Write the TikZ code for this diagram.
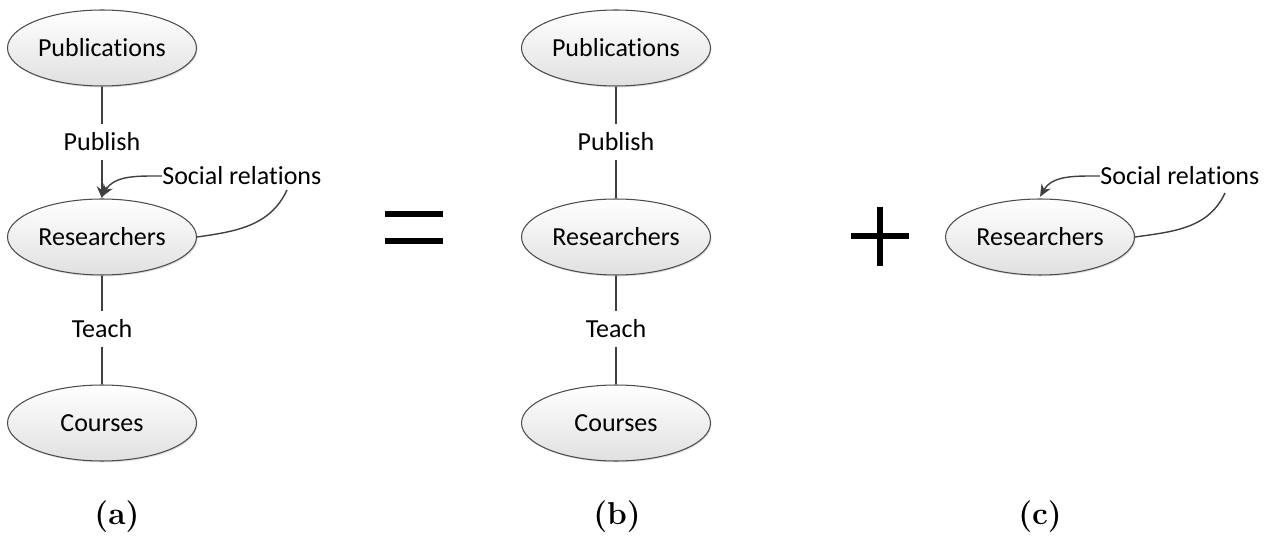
\documentclass[tikz,border=0pt]{standalone}
\usepackage{fontspec}
\setmainfont[Ligatures=NoCommon]{Carlito}
\newfontfamily\capfont{Latin Modern Roman}
\usetikzlibrary{shapes.geometric,arrows.meta,shadows}
\begin{document}
\begin{tikzpicture}[x=0.02cm,y=-0.02cm,
  entity/.style={ellipse,draw=black!70,line width=0.6pt,top color=white,bottom color=black!12,
    minimum width=3.78cm,minimum height=1.52cm,inner sep=0pt,font=\fontsize{14.8}{16}\selectfont,
    drop shadow={shadow xshift=0.6pt,shadow yshift=-0.8pt,fill=black!25,opacity=0.5}},
  rel/.style={font=\fontsize{14.8}{16}\selectfont,inner sep=0pt,minimum height=0.72cm},
  link/.style={draw=black!75,line width=0.8pt},
  arr/.style={link,-{Stealth[length=7pt,width=6pt]}},
  sub/.style={font=\capfont\bfseries\fontsize{18}{20}\selectfont},
  sym/.style={line width=3.2pt,black}]
\useasboundingbox (0,0) rectangle (1280,536);

% (a) full schema
\node[entity] (pubA) at (102,48) {Publications};
\node[entity] (resA) at (102,237) {Researchers};
\node[entity] (crsA) at (102,423) {Courses};
\node[rel] (publishA) at (102,142) {Publish};
\node[rel] (teachA) at (102,329) {Teach};
\node[rel,anchor=west] (socA) at (162,176) {Social relations};
\draw[link] (pubA.south) -- (publishA.north);
\draw[arr] (publishA.south) -- (resA.north);
\draw[link] (resA.south) -- (teachA.north);
\draw[link] (teachA.south) -- (crsA.north);
\coordinate (socAend) at (287,190);
\draw[link] (resA.east) to[out=8,in=245] (socAend);
\draw[arr] (socA.west) to[out=180,in=60] ([yshift=1pt]resA.north);
\node[sub] (capA) at (117,517) {(a)};

% equals sign
\coordinate (eqL1) at (385,214); \coordinate (eqR1) at (443,214);
\coordinate (eqL2) at (385,241); \coordinate (eqR2) at (443,241);
\draw[sym] (eqL1) -- (eqR1);
\draw[sym] (eqL2) -- (eqR2);

% (b) entities with their links
\node[entity] (pubB) at (616,48) {Publications};
\node[entity] (resB) at (616,237) {Researchers};
\node[entity] (crsB) at (616,423) {Courses};
\node[rel] (publishB) at (616,142) {Publish};
\node[rel] (teachB) at (616,329) {Teach};
\draw[link] (pubB.south) -- (publishB.north);
\draw[link] (publishB.south) -- (resB.north);
\draw[link] (resB.south) -- (teachB.north);
\draw[link] (teachB.south) -- (crsB.north);
\node[sub] (capB) at (617,517) {(b)};

% plus sign
\coordinate (plL) at (851,236); \coordinate (plR) at (909,236);
\coordinate (plT) at (880,207); \coordinate (plB) at (880,266);
\draw[sym] (plL) -- (plR);
\draw[sym] (plT) -- (plB);

% (c) social relations among researchers
\node[entity] (resC) at (1040,237) {Researchers};
\node[rel,anchor=west] (socC) at (1100,176) {Social relations};
\coordinate (socCend) at (1225,193);
\draw[link] (resC.east) to[out=8,in=245] (socCend);
\draw[arr] (socC.west) to[out=180,in=60] ([yshift=1pt]resC.north);
\node[sub] (capC) at (1040,517) {(c)};
\end{tikzpicture}
\end{document}
